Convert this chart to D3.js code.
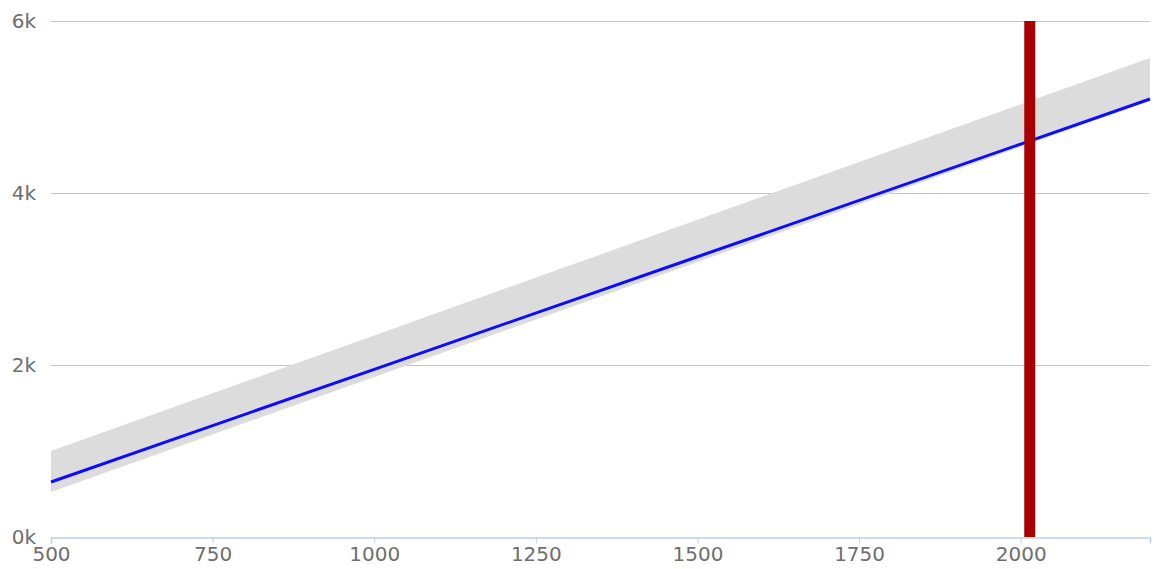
<!DOCTYPE html>
<html>
<head>
<meta charset="utf-8">
<script src="https://cdn.jsdelivr.net/npm/d3@7"></script>
<style>
  body { margin: 0; background: #fff; }
  .tick text { font-family: "DejaVu Sans", sans-serif; fill: #6e6e6e; }
</style>
</head>
<body>
<div id="chart"></div>
<script>
// values
var xs = [500, 1000, 1500, 2000, 2200];
var fit = [640, 1950, 3259, 4569, 5093];
var upper = [1000, 2344, 3688, 5032, 5570];
var lower = [523, 1860, 3198, 4535, 5070];
var marker = 2014;
var yTicks = [0, 2000, 4000, 6000];
var xTicks = [500, 750, 1000, 1250, 1500, 1750, 2000];

var width = 1157,
    height = 569,
    padLeft = 51,
    padRight = 1150,
    padTop = 21,
    padBottom = 537;

var svg = d3.select("#chart").append("svg")
  .attr("width", width)
  .attr("height", height);

var x = d3.scaleLinear().domain([500, 2200]).range([padLeft, padRight]);
var y = d3.scaleLinear().domain([0, 6000]).range([padBottom, padTop]);

var data = xs.map(function (d, i) {
  return {x: d, fit: fit[i], hi: upper[i], lo: lower[i]};
});

// grid lines
svg.append("g")
  .selectAll("line")
  .data(yTicks.filter(function (d) { return d > 0; }))
  .enter()
  .append("line")
  .attr("x1", padLeft)
  .attr("x2", padRight)
  .attr("y1", function (d) { return y(d) + 0.5; })
  .attr("y2", function (d) { return y(d) + 0.5; })
  .attr("stroke", "#c6c6c6")
  .attr("stroke-width", 1.2);

// y labels
var yAxis = d3.axisLeft(y)
  .tickValues(yTicks)
  .tickSize(0)
  .tickPadding(15)
  .tickFormat(function (d) { return (d / 1000) + "k"; });

svg.append("g")
  .attr("transform", "translate(" + padLeft + ",0)")
  .call(yAxis)
  .call(function (g) { g.select(".domain").remove(); })
  .selectAll("text")
  .style("font-size", "20px");

// confidence band
var area = d3.area()
  .x(function (d) { return x(d.x); })
  .y0(function (d) { return y(d.lo); })
  .y1(function (d) { return y(d.hi); });

svg.append("path")
  .attr("d", area(data))
  .attr("fill", "#dcdcdc");

// fitted line
var line = d3.line()
  .x(function (d) { return x(d.x); })
  .y(function (d) { return y(d.fit); });

svg.append("path")
  .attr("d", line(data))
  .attr("fill", "none")
  .attr("stroke", "#0c0cff")
  .attr("stroke-width", 3);

// x axis
var xAxis = d3.axisBottom(x)
  .tickValues(xTicks)
  .tickFormat(d3.format("d"))
  .tickSizeOuter(0)
  .tickSize(6)
  .tickPadding(5);

var gx = svg.append("g")
  .attr("transform", "translate(0," + (padBottom + 0.5) + ")")
  .call(xAxis);

gx.select(".domain").attr("stroke", "#c0d0e0").attr("stroke-width", 1.5);
gx.selectAll(".tick line").attr("stroke", "#c0d0e0");
gx.selectAll("text").style("font-size", "20px").attr("dy", "0.62em");

// marker
svg.append("line")
  .attr("x1", x(marker))
  .attr("x2", x(marker))
  .attr("y1", y(6000))
  .attr("y2", y(0))
  .attr("stroke", "#a80000")
  .attr("stroke-width", 11);
</script>
</body>
</html>
